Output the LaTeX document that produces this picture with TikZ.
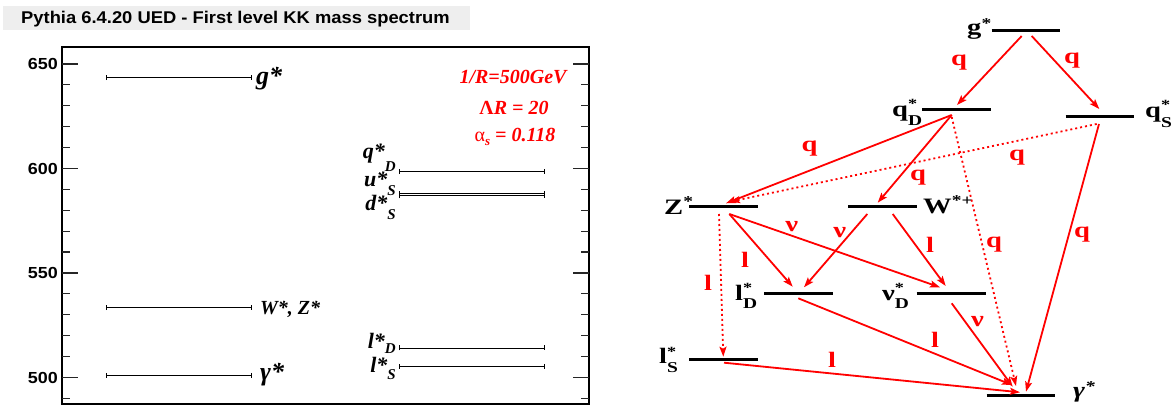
\documentclass[tikz,border=0pt]{standalone}
\usepackage{fontspec}
\usetikzlibrary{arrows.meta}
\newfontfamily\ttlfont[FakeStretch=1.08]{Liberation Sans}
\newfontfamily\axfont[FakeStretch=1.12]{Liberation Sans}
\newfontfamily\plfont{Liberation Serif}
\newfontfamily\dgfont[FakeStretch=1.3]{Liberation Serif}
\definecolor{titlegray}{RGB}{238,238,238}
\definecolor{rootred}{RGB}{255,0,0}
\newcommand\fs[1]{\fontsize{#1}{#1}\selectfont}
% right diagram label: main, sup, sub, sub drop
\newcommand\DgLab[4]{#1\rlap{\raisebox{8pt}{\fs{14}#2}}\raisebox{-#4}{\fs{15}#3}}
\newcommand\DgSup[3]{#1\raisebox{#3}{\fs{15}#2}}
% left plot label: main, sub, drop
\newcommand\PlLab[3]{#1*\raisebox{-#3}{\fs{15}#2}}
\tikzset{
  frameline/.style={draw=black, line width=1.3pt},
  tickline/.style={draw=black!85, line width=1.2pt},
  axlabel/.style={anchor=east, inner sep=0pt, font=\axfont\bfseries\fs{16}},
  plevel/.style={draw=black, line width=0.9pt, {Bar[width=5pt,line width=0.9pt]}-{Bar[width=5pt,line width=0.9pt]}},
  pltext/.style={inner sep=0pt, font=\plfont\bfseries\itshape},
  partext/.style={inner sep=0pt, text=rootred, font=\plfont\bfseries\itshape\fs{20}},
  dlevel/.style={draw=black, line width=3pt},
  dglabel/.style={anchor=base west, inner sep=0pt, font=\dgfont\bfseries\fs{22}},
  declabel/.style={inner sep=0pt, text=rootred, font=\dgfont\bfseries\fs{22}},
  decay/.style={draw=rootred, line width=1.8pt, -{Stealth[length=10pt,width=7pt,inset=2pt]}},
  decaydot/.style={decay, dash pattern=on 2pt off 3pt}
}
\begin{document}
\begin{tikzpicture}[x=1pt,y=-1pt]
\useasboundingbox (0,0) rectangle (1175,411);
% ---------------- title ----------------
\fill[titlegray] (3,6) rectangle (470,30);
\node[anchor=base west, inner sep=0pt, font=\ttlfont\bfseries\fs{17}] (title) at (21,24) {Pythia 6.4.20 UED - First level KK mass spectrum};
% ---------------- left plot ----------------
\draw[frameline] (62,47) rectangle (589,404);
\foreach \m in {500,550,600,650}{
  \pgfmathsetmacro\yy{168.5-(\m-600)*2.09}
  \draw[tickline] (62,\yy) -- ++(16,0);
  \draw[tickline] (589,\yy) -- ++(-16,0);
  \node[axlabel] at (58,\yy) {\m};
}
\foreach \m in {490,510,520,530,540,560,570,580,590,610,620,630,640}{
  \pgfmathsetmacro\yy{168.5-(\m-600)*2.09}
  \draw[tickline] (62,\yy) -- ++(8,0);
  \draw[tickline] (589,\yy) -- ++(-8,0);
}
\draw[plevel] (105.7,77.7) -- (252.3,77.7);
\draw[plevel] (105.7,307.7) -- (252.3,307.7);
\draw[plevel] (105.7,375.3) -- (252.3,375.3);
\draw[plevel] (399,171.7) -- (545,171.7);
\draw[plevel] (399,193.3) -- (545,193.3);
\draw[plevel] (399,195.8) -- (545,195.8);
\draw[plevel] (399,348) -- (545,348);
\draw[plevel] (399,366.3) -- (545,366.3);
\node[pltext, anchor=base west, font=\plfont\bfseries\itshape\fs{26}] (lg) at (256,85) {g*};
\node[pltext, anchor=base west, font=\plfont\bfseries\itshape\fs{20}] (lwz) at (260,315) {W*, Z*};
\node[pltext, anchor=base west, font=\plfont\bfseries\itshape\fs{26}] (lgam) at (260,381) {γ*};
\node[pltext, anchor=base east, font=\plfont\bfseries\itshape\fs{22}] (lqd) at (396,158.5) {\PlLab{q}{D}{13pt}};
\node[pltext, anchor=base east, font=\plfont\bfseries\itshape\fs{22}] (lus) at (396,186.5) {\PlLab{u}{S}{9pt}};
\node[pltext, anchor=base east, font=\plfont\bfseries\itshape\fs{22}] (lds) at (396,210.5) {\PlLab{d}{S}{9pt}};
\node[pltext, anchor=base east, font=\plfont\bfseries\itshape\fs{22}] (lld) at (396,348.5) {\PlLab{l}{D}{5pt}};
\node[pltext, anchor=base east, font=\plfont\bfseries\itshape\fs{22}] (lls) at (396,372.5) {\PlLab{l}{S}{7pt}};
\node[partext, anchor=base] (p1) at (513,83.5) {1/R=500GeV};
\node[partext, anchor=base] (p2) at (514,114.5) {{\upshape Λ}R = 20};
\node[partext, anchor=base] (p3) at (515,141.5) {{\upshape\mdseries α}\raisebox{-4pt}{\fs{13}s} = 0.118};
% ---------------- right decay diagram ----------------
% levels
\coordinate (gl) at (991.7,30.7);   \coordinate (gr) at (1060.3,30.7);
\coordinate (qdl) at (922.3,109.3); \coordinate (qdr) at (990.7,109.3);
\coordinate (qsl) at (1065.7,116.7);\coordinate (qsr) at (1134,116.7);
\coordinate (zl) at (689.3,206.7);  \coordinate (zr) at (757.7,206.7);
\coordinate (wl) at (848.3,206.7);  \coordinate (wr) at (916.7,206.7);
\coordinate (ldl) at (764.3,293.3); \coordinate (ldr) at (832.7,293.3);
\coordinate (ndl) at (916.7,293.3); \coordinate (ndr) at (985.7,293.3);
\coordinate (lsl) at (689.3,360);   \coordinate (lsr) at (757.7,360);
\coordinate (al) at (986.7,395.7);  \coordinate (ar) at (1055,395.7);
\foreach \a/\b in {gl/gr,qdl/qdr,qsl/qsr,zl/zr,wl/wr,ldl/ldr,ndl/ndr,lsl/lsr,al/ar}
  \draw[dlevel] (\a) -- (\b);
% level labels
\node[dglabel] (tg) at (967,35) {\DgSup{g}{*}{6pt}};
\node[dglabel] (tqd) at (892,117) {\DgLab{q}{*}{D}{9pt}};
\node[dglabel] (tqs) at (1145,118) {\DgLab{q}{*}{S}{10pt}};
\node[dglabel] (tz) at (664,215) {\DgSup{Z}{*}{8pt}};
\node[dglabel] (tw) at (923,214) {\DgSup{W}{*+}{8pt}};
\node[dglabel] (tld) at (735,301) {\DgLab{l}{*}{D}{8pt}};
\node[dglabel] (tnd) at (882,301) {\DgLab{ν}{*}{D}{8pt}};
\node[dglabel] (tls) at (659,364) {\DgLab{l}{*}{S}{9pt}};
\node[dglabel, font=\dgfont\bfseries\itshape\fs{22}] (tga) at (1073,398) {\DgSup{γ}{*}{6pt}};
% decay end points
\coordinate (g1) at (1021.7,36);   \coordinate (qd1) at (957,105);
\coordinate (g2) at (1031.7,36);   \coordinate (qs1) at (1099.3,109);
\coordinate (qd2) at (951.7,115);  \coordinate (z1) at (726,203.3);
\coordinate (w1) at (877.7,202.7);
\coordinate (qd3) at (951.7,117);  \coordinate (a1) at (1016,386);
\coordinate (qs2) at (1096.7,124); \coordinate (z2) at (730,201.7);
\coordinate (qs3) at (1099,124);   \coordinate (a2) at (1026,391.7);
\coordinate (z3) at (729.3,214);   \coordinate (ld1) at (792.7,286.7);
\coordinate (nd1) at (940,287.3);
\coordinate (w2) at (867.3,214);   \coordinate (ld2) at (804,287.3);
\coordinate (w3) at (892.7,214);   \coordinate (nd2) at (945.7,286);
\coordinate (z4) at (719,214);     \coordinate (ls1) at (723.3,356.7);
\coordinate (ld3) at (798.3,298.3);\coordinate (a3) at (1012,385);
\coordinate (nd3) at (951.7,303.3);\coordinate (a4) at (1012.7,386.7);
\coordinate (ls2) at (724,362.7);  \coordinate (a5) at (1020,392.3);
% decays
\draw[decay] (g1) -- (qd1);
\draw[decay] (g2) -- (qs1);
\draw[decay] (qd2) -- (z1);
\draw[decay] (qd2) -- (w1);
\draw[decaydot] (qd3) -- (a1);
\draw[decaydot] (qs2) -- (z2);
\draw[decay] (qs3) -- (a2);
\draw[decay] (z3) -- (ld1);
\draw[decay] (z3) -- (nd1);
\draw[decay] (w2) -- (ld2);
\draw[decay] (w3) -- (nd2);
\draw[decaydot] (z4) -- (ls1);
\draw[decay] (ld3) -- (a3);
\draw[decay] (nd3) -- (a4);
\draw[decay] (ls2) -- (a5);
% decay labels
\node[declabel] (d1) at (959,63) {q};
\node[declabel] (d2) at (1072,61) {q};
\node[declabel] (d3) at (809.5,149) {q};
\node[declabel] (d4) at (918,177.5) {q};
\node[declabel] (d5) at (1017,157.5) {q};
\node[declabel] (d6) at (994,245) {q};
\node[declabel] (d7) at (1082,235) {q};
\node[declabel] (d8) at (791.7,226.7) {ν};
\node[declabel] (d9) at (839.7,232.5) {ν};
\node[declabel] (d10) at (930,245) {l};
\node[declabel] (d11) at (745,260) {l};
\node[declabel] (d12) at (708,282.5) {l};
\node[declabel] (d13) at (935,340) {l};
\node[declabel] (d14) at (832,360) {l};
\node[declabel] (d15) at (977.5,321.7) {ν};
\end{tikzpicture}
\end{document}
